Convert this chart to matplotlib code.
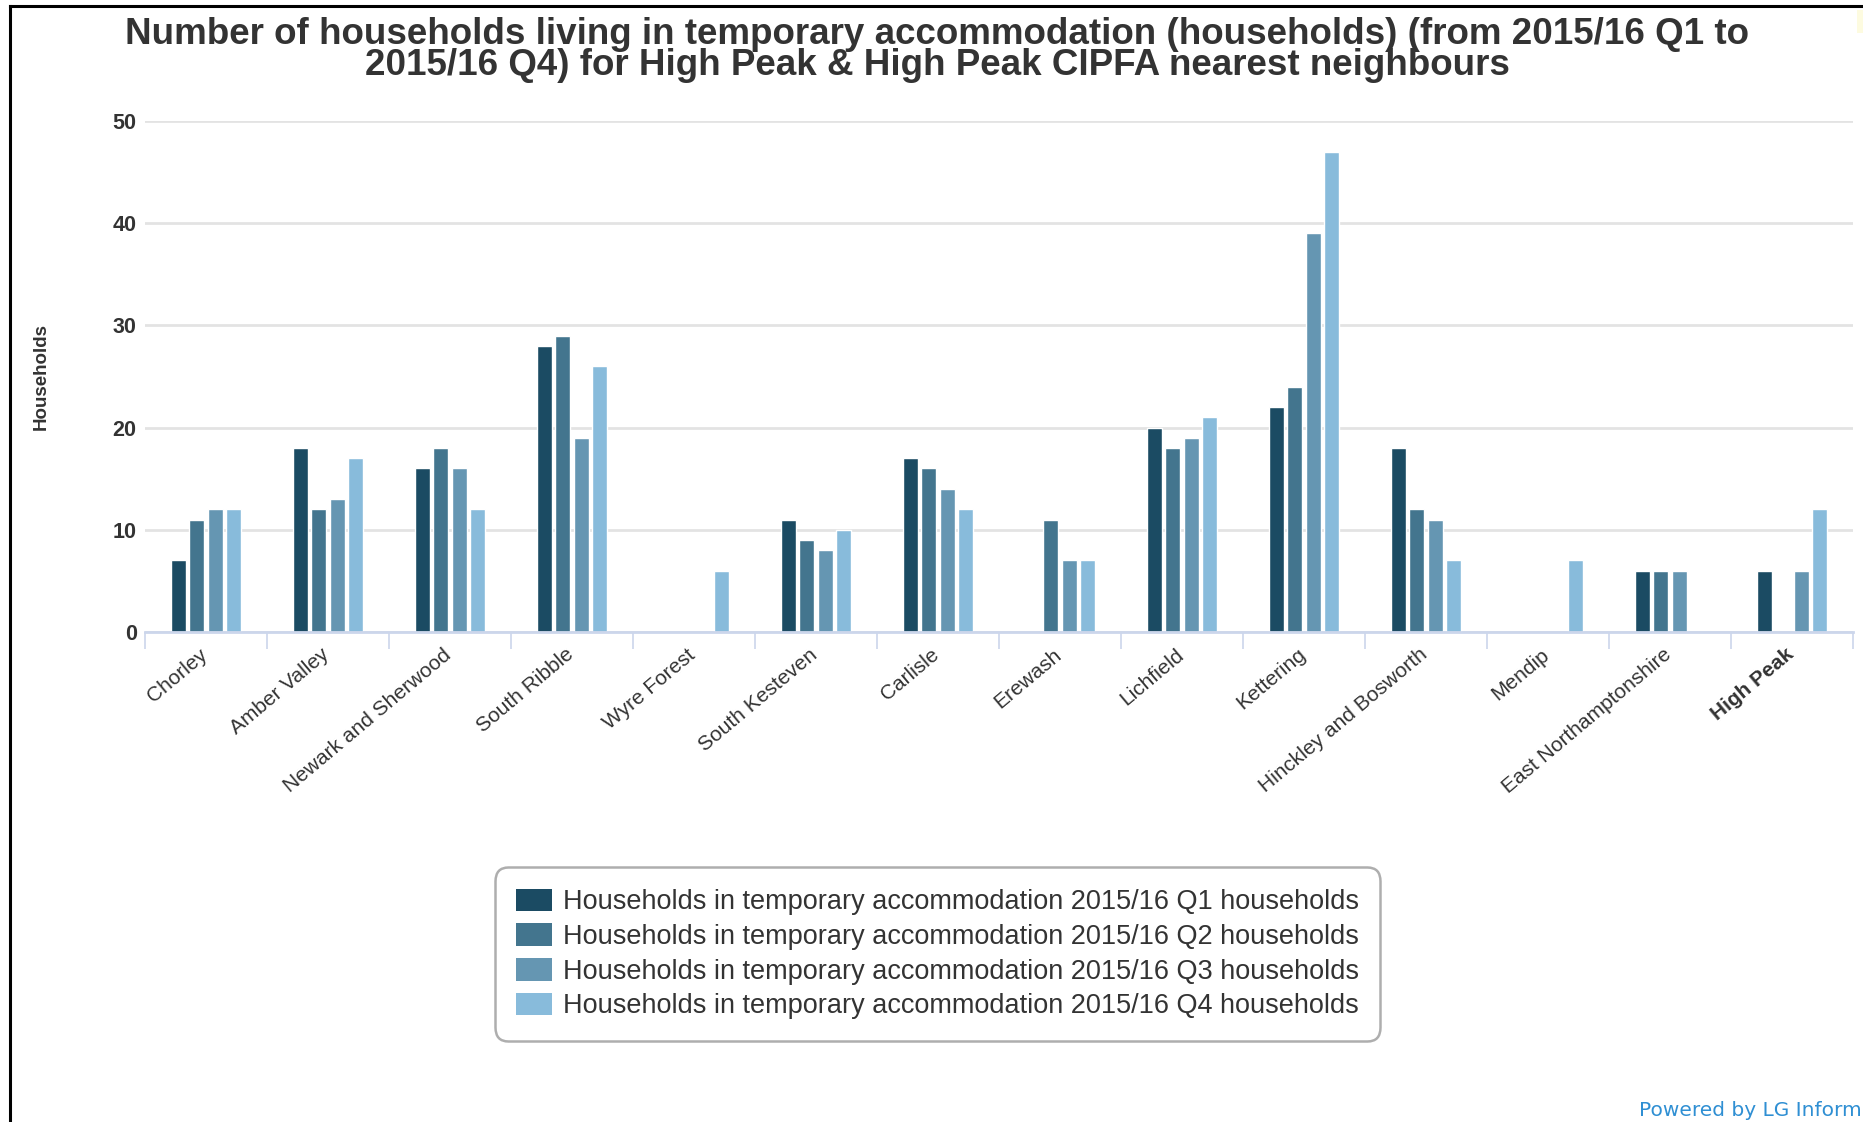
import matplotlib
matplotlib.use("Agg")
import matplotlib.pyplot as plt
import numpy as np
from matplotlib.patches import Rectangle
from matplotlib.lines import Line2D
from matplotlib.transforms import offset_copy

plt.rcParams['font.family'] = ['Liberation Sans', 'DejaVu Sans']

categories = ["Chorley", "Amber Valley", "Newark and Sherwood", "South Ribble", "Wyre Forest",
              "South Kesteven", "Carlisle", "Erewash", "Lichfield", "Kettering",
              "Hinckley and Bosworth", "Mendip", "East Northamptonshire", "High Peak"]
q1 = [7, 18, 16, 28, None, 11, 17, None, 20, 22, 18, None, 6, 6]
q2 = [11, 12, 18, 29, None, 9, 16, 11, 18, 24, 12, None, 6, None]
q3 = [12, 13, 16, 19, None, 8, 14, 7, 19, 39, 11, None, 6, 6]
q4 = [12, 17, 12, 26, 6, 10, 12, 7, 21, 47, 7, 7, None, 12]
series_names = ["Households in temporary accommodation 2015/16 Q1 households",
                "Households in temporary accommodation 2015/16 Q2 households",
                "Households in temporary accommodation 2015/16 Q3 households",
                "Households in temporary accommodation 2015/16 Q4 households"]
colors = ["#1b4b63", "#43758e", "#6596b2", "#88bbdb"]
yticks = [0, 10, 20, 30, 40, 50]

W, H = 1863, 1122
fig = plt.figure(figsize=(W / 100, H / 100), dpi=100)

ax = fig.add_axes([145 / W, 1 - 632 / H, (1853 - 145) / W, (632 - 121) / H])
ax.set_xlim(-0.5, len(categories) - 0.5)
ax.set_ylim(0, 50)

x = np.arange(len(categories))
offsets = [-0.225, -0.075, 0.075, 0.225]
for vals, off, col in zip([q1, q2, q3, q4], offsets, colors):
    v = np.array([np.nan if a is None else a for a in vals], dtype=float)
    ax.bar(x + off, v, width=0.125, color=col, edgecolor="white", linewidth=1.0, zorder=3)

# grid
ax.set_yticks(yticks)
ax.yaxis.grid(True, color="#e3e3e3", linewidth=2.0, zorder=0)
ax.set_axisbelow(True)
for s in ["top", "right", "left"]:
    ax.spines[s].set_visible(False)
ax.spines["bottom"].set_color("#ccd6eb")
ax.spines["bottom"].set_linewidth(2.0)
ax.spines["bottom"].set_zorder(4)

ax.tick_params(axis="y", length=0, pad=6, labelsize=15.5, labelcolor="#333333")
for lbl in ax.get_yticklabels():
    lbl.set_fontweight("bold")

# x ticks at category boundaries
ax.set_xticks(np.arange(-0.5, len(categories) + 0.5, 1.0))
ax.set_xticklabels([])
ax.tick_params(axis="x", length=12, width=1.2, color="#ccd6eb", direction="out")

# category labels
trans = ax.get_xaxis_transform()
ltrans = offset_copy(trans, fig=fig, x=-7, y=-13, units="dots")
for i, c in enumerate(categories):
    ax.text(i, 0, c, transform=ltrans, rotation=40, ha="right", va="top",
            rotation_mode="anchor", fontsize=15, color="#333333",
            fontweight="bold" if c == "High Peak" else "normal")

ax.set_ylabel("Households", fontsize=13.5, fontweight="bold", color="#333333")
ax.yaxis.set_label_coords((50 - 145) / (1853 - 145), 0.5)

# title
fig.text(0.503, 1 - 50 / H,
         "Number of households living in temporary accommodation (households) (from 2015/16 Q1 to\n"
         "2015/16 Q4) for High Peak & High Peak CIPFA nearest neighbours",
         ha="center", va="center", fontsize=26.5, fontweight="bold", color="#333333",
         linespacing=0.84)

# legend
handles = [Rectangle((0, 0), 1, 1, facecolor=c, edgecolor="none") for c in colors]
leg = fig.legend(handles, series_names, loc="center",
                 bbox_to_anchor=((488 + 1387) / 2 / W, 1 - (867 + 1041) / 2 / H),
                 fontsize=19.5, frameon=True, fancybox=True, labelcolor="#333333",
                 handlelength=1.3, handleheight=0.9, handletextpad=0.4,
                 labelspacing=0.3, borderpad=0.8, borderaxespad=0)
frame = leg.get_frame()
frame.set_edgecolor("#9a9a9a")
frame.set_linewidth(1.8)
frame.set_boxstyle("round,pad=0,rounding_size=0.5")

# credit
fig.text(1862 / W, 1 - 1111 / H, "Powered by LG Inform", ha="right", va="center",
         fontsize=14.5, color="#2f8fd3", family=["DejaVu Sans"])

# frame lines
fig.add_artist(Line2D([10 / W, 10 / W], [0, 1 - 6 / H], color="black", linewidth=2.2,
                      transform=fig.transFigure))
fig.add_artist(Line2D([10 / W, 1], [1 - 6 / H, 1 - 6 / H], color="black", linewidth=2.2,
                      transform=fig.transFigure))
fig.add_artist(Rectangle((1857 / W, 1 - 33 / H), 6 / W, 23 / H, facecolor="#fdfbe0",
                         edgecolor="none", transform=fig.transFigure))

fig.savefig("out.png", dpi=100)
